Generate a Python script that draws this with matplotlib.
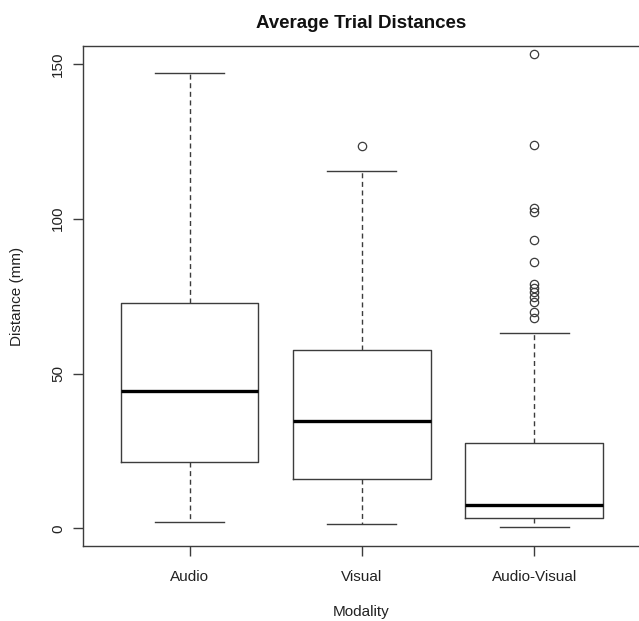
import matplotlib
matplotlib.use("Agg")
import matplotlib.pyplot as plt

plt.rcParams['font.family'] = ['Liberation Sans', 'DejaVu Sans']
plt.rcParams['lines.scale_dashes'] = False

categories = ["Audio", "Visual", "Audio-Visual"]
q1 = [21.5, 15.9, 3.3]
medians = [44.3, 34.8, 7.4]
q3 = [72.9, 57.6, 27.5]
whisker_low = [2.1, 1.5, 0.5]
whisker_high = [147.0, 115.4, 63.0]
outliers = [
    [],
    [123.6],
    [153.2, 123.8, 103.4, 102.3, 93.2, 85.9, 79.0, 77.6, 76.2, 74.8, 73.2, 69.8, 68.0],
]
y_ticks = [0, 50, 100, 150]

W, H = 639, 621
fig = plt.figure(figsize=(W / 100, H / 100), dpi=100)
ax = fig.add_axes([82.7 / W, 1 - 546 / H, (641 - 82.7) / W, (546 - 45.7) / H])

stats = []
for i, c in enumerate(categories):
    stats.append(dict(label=c, q1=q1[i], med=medians[i], q3=q3[i],
                      whislo=whisker_low[i], whishi=whisker_high[i], fliers=outliers[i]))

lc = '#3c3c3c'
ax.bxp(stats, positions=[1, 2, 3], widths=0.8, showfliers=True,
       boxprops=dict(color=lc, linewidth=1.0),
       medianprops=dict(color='black', linewidth=2.4, solid_capstyle='butt'),
       whiskerprops=dict(color=lc, linewidth=1.0, linestyle=(0, (3.6, 2.6))),
       capprops=dict(color=lc, linewidth=1.0),
       capwidths=0.4,
       flierprops=dict(marker='o', markersize=6, markerfacecolor='none',
                       markeredgecolor=lc, markeredgewidth=0.9, linestyle='none'))

ax.set_xlim(0.38, 3.62)
ax.set_ylim(-5.72, 155.9)
ax.set_yticks(y_ticks)
ax.set_yticklabels([str(v) for v in y_ticks], rotation=90, va='center', ha='right')
ax.set_xticks([1, 2, 3])
ax.set_xticklabels(categories)

for s in ax.spines.values():
    s.set_color(lc)
    s.set_linewidth(1.0)
ax.tick_params(axis='both', length=7.5, width=1.0, color=lc, labelsize=11, labelcolor='#222222')
ax.tick_params(axis='x', pad=10)
ax.tick_params(axis='y', pad=5)

fig.text(361.5 / W, 1 - 28 / H, "Average Trial Distances", ha='center', va='baseline',
         fontsize=13.5, fontweight='bold', color='#111111')
fig.text(17.5 / W, 1 - 296 / H, "Distance (mm)", ha='center', va='center', rotation=90,
         fontsize=11, color='#222222')
fig.text(361.5 / W, 1 - 616 / H, "Modality", ha='center', va='baseline',
         fontsize=11, color='#222222')

fig.savefig("out.png", dpi=100)
